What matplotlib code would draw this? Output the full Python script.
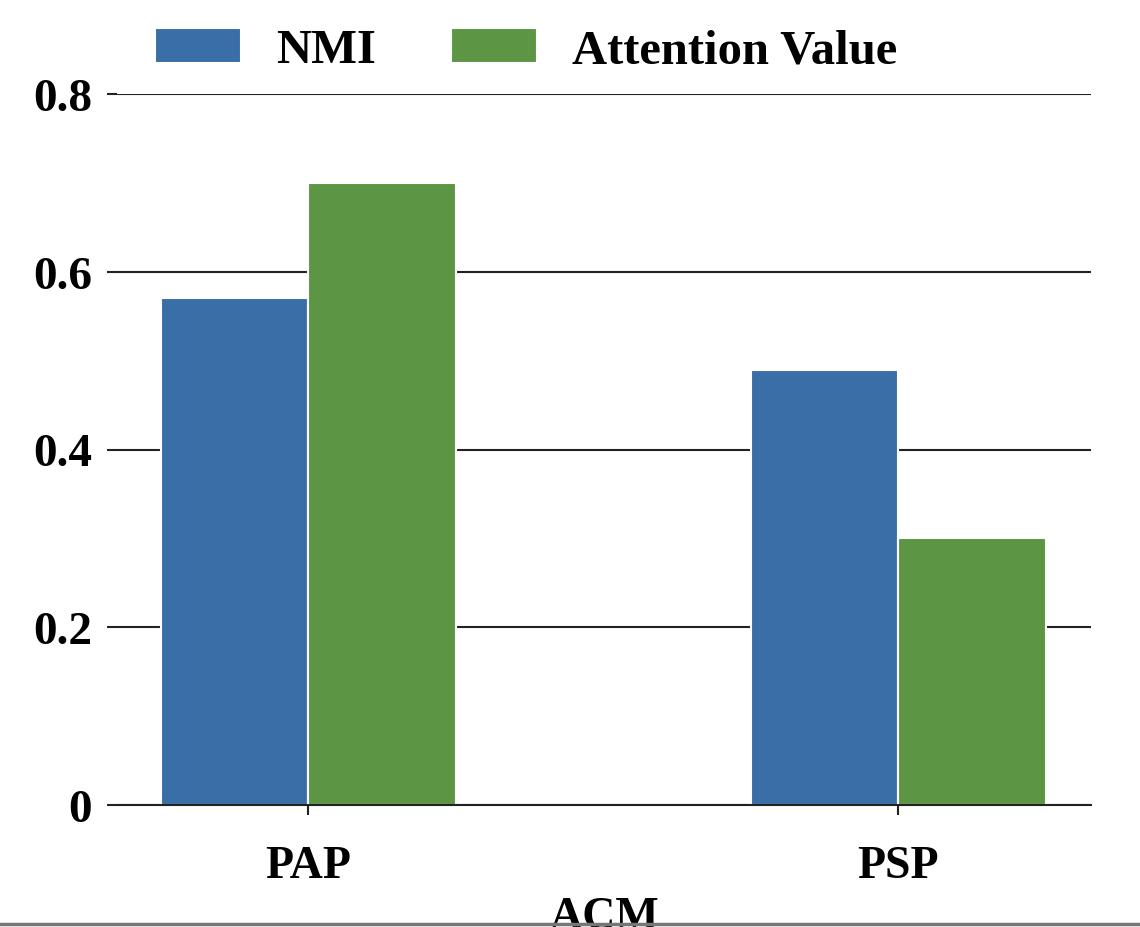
import numpy as np
import matplotlib.pyplot as plt
from matplotlib.lines import Line2D

# Data
groups = ['PAP', 'PSP']
nmi = [0.57, 0.49]
attention = [0.70, 0.30]
series_names = ['NMI', 'Attention Value']
colors = ['#3A6EA6', '#5C9644']

plt.rcParams['font.family'] = ['Liberation Serif', 'DejaVu Serif']
plt.rcParams['font.weight'] = 'bold'

fig = plt.figure(figsize=(11.4, 9.28), dpi=100)
ax = fig.add_axes([117 / 1140, 1 - 806 / 928, 974 / 1140, (806 - 95) / 928])

x = np.arange(len(groups))
w = 0.25
ax.bar(x - w / 2, nmi, w, color=colors[0], edgecolor='white', linewidth=1.5,
       label=series_names[0], zorder=3)
ax.bar(x + w / 2, attention, w, color=colors[1], edgecolor='white', linewidth=1.5,
       label=series_names[1], zorder=3)

# group centres at 308 px and 898 px
ax.set_xlim(-(308 - 117) / 590, (1091 - 308) / 590)
ax.set_ylim(0, 0.8)
ax.set_yticks([0, 0.2, 0.4, 0.6, 0.8])
ax.set_yticklabels(['0', '0.2', '0.4', '0.6', '0.8'], fontsize=34, fontweight='bold')
ax.set_xticks(x)
ax.set_xticklabels(groups, fontsize=33, fontweight='bold')
ax.tick_params(axis='y', length=7, width=1.5, color='#222222', pad=11)
ax.tick_params(axis='x', length=7, width=1.5, color='#222222', pad=22)

ax.yaxis.grid(True, color='#222222', linewidth=1.5, zorder=0)
ax.set_axisbelow(True)
for s in ['top', 'right', 'left']:
    ax.spines[s].set_visible(False)
ax.spines['bottom'].set_color('#222222')
ax.spines['bottom'].set_linewidth(1.5)
ax.spines['bottom'].set_zorder(4)

ax.set_xlabel('ACM', fontsize=33, fontweight='bold', labelpad=6)

ax.legend(loc='center', bbox_to_anchor=(526 / 1140, 1 - 51 / 928),
          bbox_transform=fig.transFigure, ncol=2, frameon=False,
          prop={'size': 35, 'weight': 'bold'}, handlelength=1.77, handleheight=0.75,
          columnspacing=1.54, handletextpad=0.72)

# thin grey rule along the bottom edge
fig.add_artist(Line2D([0, 1], [3 / 928, 3 / 928], color='#777777', linewidth=2.5,
                      transform=fig.transFigure))

fig.savefig('out.png', dpi=100)
